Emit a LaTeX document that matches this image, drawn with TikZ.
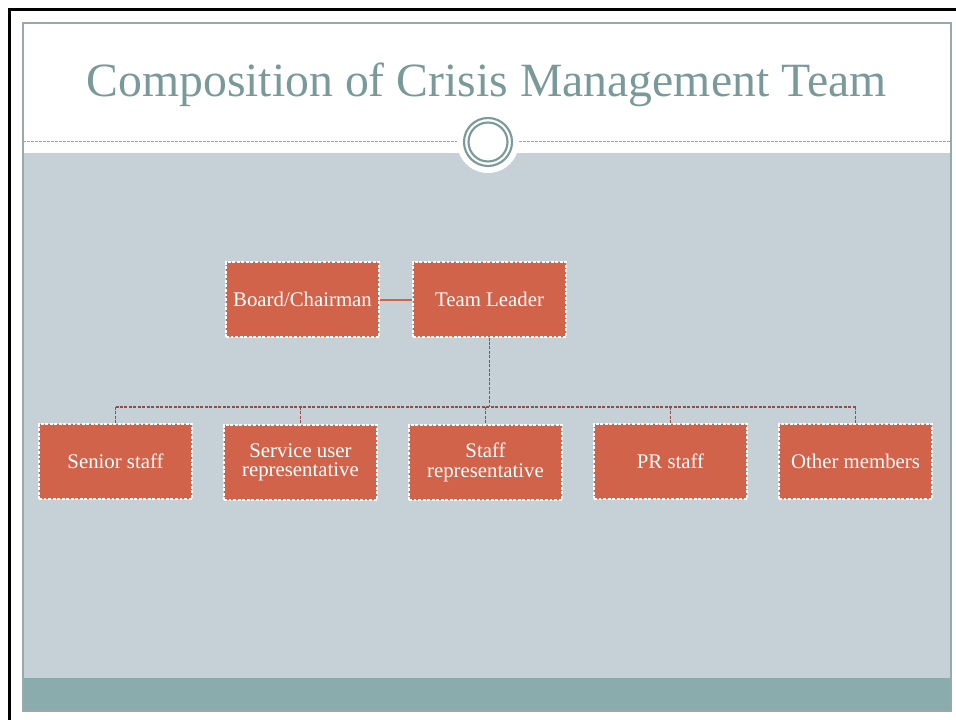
\documentclass[tikz,border=0pt]{standalone}
\usepackage{fontspec}
\setmainfont{Liberation Serif}
\definecolor{slidegray}{RGB}{197,209,215}
\definecolor{teal}{RGB}{138,172,172}
\definecolor{titlecol}{RGB}{122,154,154}
\definecolor{boxfill}{RGB}{208,99,74}
\definecolor{conn}{RGB}{150,76,66}
\definecolor{frameline}{RGB}{150,170,170}
\tikzset{
  box/.style={draw=white, fill=boxfill, line width=0.8pt, dash pattern=on 2.2pt off 1.2pt,
    minimum width=114.75pt, minimum height=56.25pt, inner sep=1pt, text=white,
    align=center, font=\fontsize{15.6}{14.5}\selectfont},
  treeline/.style={draw=conn, line width=1.3pt, dash pattern=on 2.25pt off 1.1pt},
  peerline/.style={draw=boxfill, line width=1.5pt},
}
\begin{document}
\begin{tikzpicture}[x=0.75pt,y=-0.75pt]
\useasboundingbox (0,0) rectangle (956,720);
\clip (0,0) rectangle (956,720);
\fill[white] (0,0) rectangle (956,720);
% outer black frame
\draw[black, line width=2.2pt] (9.5,9.5) rectangle (990,760);
% slide
\fill[white] (23,23) rectangle (951,153);
\fill[slidegray] (23,153) rectangle (951,678);
\fill[teal] (23,678) rectangle (951,711);
\draw[frameline, line width=0.8pt] (23,23) rectangle (951,711);
% dashed title rule
\draw[frameline, line width=0.6pt, dash pattern=on 2pt off 1pt] (23,141) -- (951,141);
% medallion
\fill[white] (488,142) circle[radius=31];
\draw[titlecol, line width=1.6pt] (488,142) circle[radius=24];
\draw[titlecol, line width=1.6pt] (488,142) circle[radius=19.5];
% title
\node[anchor=base, text=titlecol, font=\fontsize{35.8}{40}\selectfont, inner sep=0pt] (title) at (486.5,97) {Composition of Crisis Management Team};
% nodes
\node[box] (board) at (302.5,299.5) {Board/Chairman};
\node[box] (tl) at (489.5,299.5) {Team Leader};
\node[box] (c1) at (115.5,461.5) {Senior staff};
\node[box] (c2) at (300.5,462.5) {Service user\\representative};
\node[box] (c3) at (485.5,462.5) {Staff\\representative};
\node[box] (c4) at (670.5,461.5) {PR staff};
\node[box] (c5) at (855.5,461.5) {Other members};
% connectors
\draw[peerline] (board.east) -- (tl.west);
\coordinate (bus) at (489.5,407);
\draw[treeline] (tl.south) -- (bus);
\draw[treeline] (c1.north |- bus) -- (c5.north |- bus);
\foreach \c in {c1,c2,c3,c4,c5} {
  \draw[treeline] (\c.north |- bus) -- (\c.north);
}
\end{tikzpicture}
\end{document}
